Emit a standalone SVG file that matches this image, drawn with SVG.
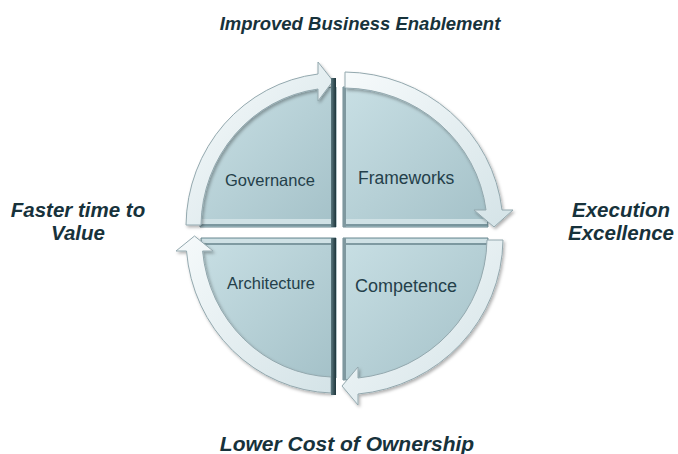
<svg xmlns="http://www.w3.org/2000/svg" width="678" height="454" viewBox="0 0 678 454">
<defs>
<style>
.outer{font-family:"Liberation Sans",Arial,sans-serif;font-weight:bold;font-style:italic;fill:#17323b;text-anchor:middle}
.lbl{font-family:"Liberation Sans",Arial,sans-serif;fill:#24404a}
.fill{fill:url(#gFill);stroke:#6a8890;stroke-width:1}
.band{fill:url(#gBand);stroke:#93a8ae;stroke-width:1;filter:url(#sh)}
.bevL{fill:#cfe1e5}
.bevD{stroke:#68858c;stroke-width:1.5}
.darkR{fill:url(#gDark)}
.edgeL{fill:#7f989f}
</style>
<linearGradient id="gFill" x1="0" y1="0" x2="1" y2="1">
<stop offset="0" stop-color="#c8dfe4"/>
<stop offset="1" stop-color="#a4c1c8"/>
</linearGradient>
<linearGradient id="gBand" x1="0" y1="0" x2="1" y2="1">
<stop offset="0" stop-color="#f6fafb"/>
<stop offset="1" stop-color="#d4e3e7"/>
</linearGradient>
<linearGradient id="gDark" x1="0" y1="0" x2="1" y2="0">
<stop offset="0" stop-color="#5b787f"/>
<stop offset="1" stop-color="#1d343a"/>
</linearGradient>
<filter id="sh" x="-10%" y="-10%" width="130%" height="130%">
<feDropShadow dx="1.5" dy="2" stdDeviation="1.5" flood-color="#000" flood-opacity="0.3"/>
</filter>
</defs>
<rect width="678" height="454" fill="#ffffff"/>

<g id="governance">
<path class="fill" d="M336,227 H200 A136 140 0 0 1 336,87 Z"/>
<rect class="bevL" x="201" y="219" width="130" height="5"/>
<line class="bevD" x1="201" y1="225" x2="331" y2="225"/>
<text class="lbl" x="225" y="186" font-size="16.5">Governance</text>
</g>
<g id="frameworks">
<path class="fill" d="M343,227 V87 A145 140 0 0 1 488,227 Z"/>
<rect class="bevL" x="346" y="219" width="141" height="5"/>
<line class="bevD" x1="346" y1="225" x2="488" y2="225"/>
<text class="lbl" x="358" y="184" font-size="17.5">Frameworks</text>
</g>
<g id="architecture">
<path class="fill" d="M336,238 V378 A135 140 0 0 1 201,238 Z"/>
<rect class="bevL" x="202" y="239" width="129" height="4"/>
<line class="bevD" x1="202" y1="244" x2="331" y2="244"/>
<text class="lbl" x="227" y="289" font-size="16.5">Architecture</text>
</g>
<g id="competence">
<path class="fill" d="M343,238 H488 A145 142 0 0 1 343,380 Z"/>
<rect class="bevL" x="346" y="239" width="141" height="4"/>
<line class="bevD" x1="346" y1="244" x2="487" y2="244"/>
<text class="lbl" x="355" y="292" font-size="18">Competence</text>
</g>

<g id="connectors">
<path class="band" d="M186,225 A150 154 0 0 1 318,74 L318,62 L333,81 L318,101 L318,89 A135 139 0 0 0 201,225 Z"/>
<path class="band" d="M345,72 A160 155 0 0 1 502,210 L513,210 L494,227 L474,210 L486,210 A144 139 0 0 0 345,88 Z"/>
<path class="band" d="M503,240 A160 157 0 0 1 358,394 L358,405 L342,386 L358,367 L358,378 A144 141 0 0 0 487,240 Z"/>
<path class="band" d="M331,393 A150 155 0 0 1 186.5,251 L176,251 L194.5,236 L213,251 L202.6,251 A134 139 0 0 0 331,377 Z"/>
</g>

<g id="edges">
<rect class="darkR" x="331" y="78" width="5" height="149"/>
<rect class="darkR" x="331" y="238" width="5" height="157"/>
<rect class="edgeL" x="343" y="88" width="3" height="139"/>
<rect class="edgeL" x="343" y="238" width="3" height="142"/>
</g>

<g id="outcomes">
<text class="outer" x="360" y="30" font-size="18.5">Improved Business Enablement</text>
<text class="outer" x="78" y="217" font-size="20.5">Faster time to</text>
<text class="outer" x="78" y="240" font-size="20.5">Value</text>
<text class="outer" x="621" y="217" font-size="20.5">Execution</text>
<text class="outer" x="621" y="240" font-size="20.5">Excellence</text>
<text class="outer" x="347" y="451" font-size="21">Lower Cost of Ownership</text>
</g>
</svg>
